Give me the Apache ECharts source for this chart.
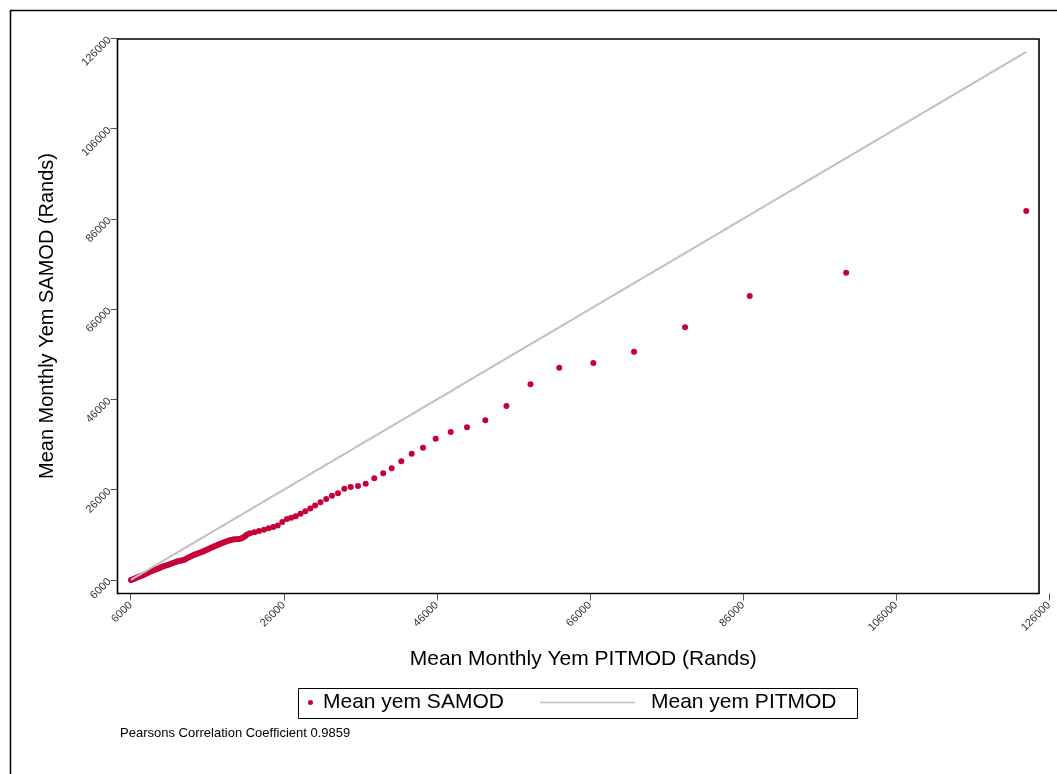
<!DOCTYPE html>
<html><head><meta charset="utf-8">
<script src="https://cdn.jsdelivr.net/npm/echarts/dist/echarts.min.js"></script>
<style>html,body{margin:0;padding:0;background:#fff}#c{width:1057px;height:774px}</style>
</head><body><div id="c"></div>
<script>
// Mean yem PITMOD (x) and Mean yem SAMOD (y), Rands
const pitmodX = [
  6039, 6300, 6562, 6823, 7085, 7346, 7607, 7869, 8130, 8391,
  8653, 8914, 9176, 9437, 9698, 9960, 10221, 10483, 10744, 11005,
  11267, 11528, 11790, 12051, 12312, 12574, 12835, 13097, 13358, 13620,
  13881, 14142, 14404, 14665, 14927, 15188, 15449, 15711, 15972, 16234,
  16495, 16756, 17018, 17279, 17541, 17802, 18063, 18325, 18586, 18848,
  19109, 19370, 19632, 19893, 20155, 20416, 20677, 20939, 21200, 21592,
  22180, 22766, 23420, 24034, 24635, 25210, 25811, 26425, 26974, 27562,
  28189, 28817, 29470, 30097, 30803, 31548, 32306, 33090, 33913, 34750,
  35704, 36710, 37834, 38997, 40107, 41362, 42721, 44198, 45857, 47818,
  49948, 52339, 55098, 58247, 61998, 66455, 71774, 78439, 86894, 99492,
  123028
];
const samodY = [
  6000, 6155, 6332, 6532, 6709, 6886, 7064, 7263, 7463, 7684,
  7906, 8083, 8261, 8438, 8615, 8792, 8970, 9125, 9280, 9435,
  9590, 9768, 9923, 10078, 10211, 10322, 10388, 10521, 10787, 11053,
  11274, 11474, 11651, 11806, 11961, 12139, 12316, 12516, 12715, 12915,
  13114, 13314, 13513, 13713, 13890, 14067, 14245, 14422, 14577, 14732,
  14865, 14954, 14998, 15020, 15065, 15175, 15397, 15707, 16062, 16350,
  16594, 16860, 17126, 17458, 17746, 18078, 18853, 19518, 19806, 20094,
  20648, 21224, 21844, 22509, 23196, 23928, 24659, 25213, 26210, 26609,
  26830, 27340, 28537, 29667, 30775, 32282, 33988, 35318, 37312, 38797,
  39838, 41390, 44564, 49373, 53052, 54094, 56599, 62006, 68943, 74107,
  87782
];
const tickValues = [6000, 26000, 46000, 66000, 86000, 106000, 126000];
const seriesNames = ['Mean yem SAMOD', 'Mean yem PITMOD'];
const xTitle = 'Mean Monthly Yem PITMOD (Rands)';
const yTitle = 'Mean Monthly Yem SAMOD (Rands)';
const noteText = 'Pearsons Correlation Coefficient 0.9859';

const FONT = '"Liberation Sans", Arial, Helvetica, sans-serif';
const scatterData = pitmodX.map((x, i) => [x, samodY[i]]);
const lineData = pitmodX.map(x => [x, x]);
const RED = '#c8003a';
const GRAY = '#c0c0c0';

const chart = echarts.init(document.getElementById('c'), null, {renderer: 'canvas'});
const tickStyle = {show: true, length: 7, inside: false, lineStyle: {color: '#555', width: 1}, customValues: tickValues};
const labelStyle = (m) => ({show: true, rotate: 45, margin: m, fontSize: 11, color: '#333', fontFamily: FONT,
  customValues: tickValues, formatter: v => String(v)});
chart.setOption({
  animation: false,
  backgroundColor: '#fff',
  textStyle: {fontFamily: FONT},
  grid: {left: 117.5, top: 38.5, width: 931.5, height: 555, containLabel: false},
  xAxis: {
    type: 'value', min: 4275, max: 126000,
    axisLine: {show: false},
    axisTick: tickStyle,
    axisLabel: labelStyle(10),
    splitLine: {show: false},
    name: xTitle, nameLocation: 'middle', nameGap: 55,
    nameTextStyle: {fontSize: 21, color: '#000', fontFamily: FONT}
  },
  yAxis: {
    type: 'value', min: 3000, max: 126000,
    axisLine: {show: false},
    axisTick: tickStyle,
    axisLabel: labelStyle(8),
    splitLine: {show: false},
    name: yTitle, nameLocation: 'middle', nameGap: 60,
    nameTextStyle: {fontSize: 20, color: '#000', fontFamily: FONT}
  },
  legend: [
    {data: [{name: seriesNames[0], icon: 'circle'}], left: 308, top: 692, padding: 0, itemWidth: 5, itemHeight: 5,
     textStyle: {fontSize: 21, color: '#000', fontFamily: FONT, padding: [0, 0, 0, 5]}},
    {data: [{name: seriesNames[1], icon: 'rect'}], left: 540, top: 692, padding: 0, itemWidth: 95, itemHeight: 1.5,
     itemStyle: {color: GRAY}, lineStyle: {width: 0},
     textStyle: {fontSize: 21, color: '#000', fontFamily: FONT, padding: [0, 0, 0, 11]}}
  ],
  series: [
    {name: seriesNames[0], type: 'scatter', data: scatterData, symbol: 'circle', symbolSize: 6,
     itemStyle: {color: RED, opacity: 1}, z: 2},
    {name: seriesNames[1], type: 'line', data: lineData, showSymbol: false, symbol: 'none',
     lineStyle: {color: GRAY, width: 2}, itemStyle: {color: GRAY}, z: 3}
  ],
  graphic: [
    {type: 'polyline', shape: {points: [[10.5, 774], [10.5, 10.5], [1057, 10.5]]}, style: {stroke: '#000', lineWidth: 1.5, fill: null}, silent: true},
    {type: 'rect', shape: {x: 117.5, y: 39, width: 921.5, height: 554.5}, style: {stroke: '#000', lineWidth: 1.6, fill: null}, z: 10, silent: true},
    {type: 'rect', shape: {x: 298.5, y: 688.5, width: 559, height: 30}, style: {stroke: '#000', lineWidth: 1, fill: null}, silent: true},
    {type: 'text', left: 120, top: 727, style: {text: noteText, fontSize: 13, fill: '#000', fontFamily: FONT}, silent: true}
  ]
});
</script></body></html>
